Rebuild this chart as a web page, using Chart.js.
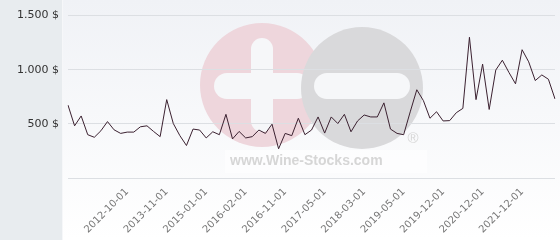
<!DOCTYPE html>
<html>
<head>
<meta charset="utf-8">
<script src="https://cdn.jsdelivr.net/npm/chart.js@4/dist/chart.umd.min.js"></script>
<style>
  html, body { margin: 0; padding: 0; background: #ffffff; }
  #wrap { width: 560px; height: 240px; position: relative; }
</style>
</head>
<body>
<div id="wrap"><canvas id="c" width="560" height="240"></canvas></div>
<script>
// Category labels (only the visible tick dates are known; others left blank)
const categories = [
  '', '', '', '', '', '', '', '', '', '2012-10-01',
  '', '', '', '', '', '2013-11-01', '', '', '', '',
  '', '2015-01-01', '', '', '', '', '', '2016-02-01', '', '',
  '', '', '', '2016-11-01', '', '', '', '', '', '2017-05-01',
  '', '', '', '', '', '2018-03-01', '', '', '', '',
  '', '2019-05-01', '', '', '', '', '', '2019-12-01', '', '',
  '', '', '', '2020-12-01', '', '', '', '', '', '2021-12-01',
  '', '', '', '', ''
];

// Price series ($)
const prices = [
  673, 482, 573, 400, 376, 436, 521, 445, 412, 424,
  424, 473, 482, 430, 382, 724, 503, 391, 300, 452,
  443, 370, 427, 400, 588, 361, 430, 370, 382, 443,
  412, 497, 270, 412, 391, 552, 400, 443, 564, 415,
  564, 503, 588, 427, 527, 582, 564, 564, 694, 452,
  412, 400, 611, 815, 715, 552, 612, 527, 530, 603,
  643, 1300, 724, 1052, 633, 997, 1088, 975, 870, 1185,
  1073, 900, 952, 912, 730
];

// Y tick values
const yTicks = [0, 500, 1000, 1500];

function fmt(v) {
  const s = String(Math.round(v));
  return s.replace(/\B(?=(\d{3})+(?!\d))/g, '.') + ' $';
}

const background = {
  id: 'background',
  beforeDraw(chart) {
    const ctx = chart.ctx;
    const W = chart.width, H = chart.height;
    ctx.save();
    const g = ctx.createLinearGradient(0, 0, 0, H);
    g.addColorStop(0, '#f0f2f6');
    g.addColorStop(1, '#ffffff');
    ctx.fillStyle = g;
    ctx.fillRect(0, 0, W, H);
    ctx.fillStyle = '#e8ecef';
    ctx.fillRect(0, 0, 62, H);
    ctx.fillStyle = '#f6f7f9';
    ctx.fillRect(62, 0, 1, H);

    function pill(x, y, w, h) {
      const r = h / 2;
      ctx.beginPath();
      ctx.moveTo(x + r, y);
      ctx.lineTo(x + w - r, y);
      ctx.arc(x + w - r, y + r, r, -Math.PI / 2, Math.PI / 2);
      ctx.lineTo(x + r, y + h);
      ctx.arc(x + r, y + r, r, Math.PI / 2, Math.PI * 1.5);
      ctx.closePath();
      ctx.fill();
    }
    ctx.fillStyle = '#eed6dc';
    ctx.beginPath(); ctx.arc(262, 85, 62, 0, Math.PI * 2); ctx.fill();
    ctx.fillStyle = '#f6f7f9';
    pill(214, 73, 96, 26);
    ctx.beginPath();
    ctx.moveTo(251, 49);
    ctx.arc(262, 49, 11, Math.PI, 0);
    ctx.lineTo(273, 121);
    ctx.arc(262, 121, 11, 0, Math.PI);
    ctx.closePath();
    ctx.fill();

    ctx.fillStyle = '#d9d9db';
    ctx.beginPath(); ctx.arc(362, 88, 61, 0, Math.PI * 2); ctx.fill();
    ctx.fillStyle = '#f6f7f9';
    pill(314, 73, 96, 26);

    ctx.fillStyle = 'rgba(255,255,255,0.5)';
    ctx.fillRect(225, 150, 202, 23);

    ctx.fillStyle = '#d6d6d6';
    ctx.font = 'bold 14px "Liberation Sans", Arial, sans-serif';
    ctx.textAlign = 'left';
    ctx.textBaseline = 'middle';
    ctx.fillText('www.Wine-Stocks.com', 230, 161);
    ctx.font = '15px "Liberation Sans", Arial, sans-serif';
    ctx.textAlign = 'center';
    ctx.fillText('\u00AE', 413, 139);
    ctx.restore();
  }
};

new Chart(document.getElementById('c'), {
  type: 'line',
  data: {
    labels: categories,
    datasets: [{
      data: prices,
      borderColor: '#3b2130',
      borderWidth: 1,
      pointRadius: 0,
      pointHoverRadius: 0,
      tension: 0,
      fill: false
    }]
  },
  options: {
    responsive: false,
    animation: false,
    events: [],
    layout: { padding: { top: 14, right: 5, left: 0, bottom: 0 } },
    plugins: { legend: { display: false }, tooltip: { enabled: false } },
    scales: {
      x: {
        offset: false,
        grid: { display: false, drawTicks: false },
        border: { display: false },
        ticks: {
          autoSkip: false,
          minRotation: 45,
          maxRotation: 45,
          padding: 8,
          color: '#777777',
          font: { family: '"DejaVu Sans", sans-serif', size: 10 }
        },
        afterFit(scale) { scale.height = 62; scale.paddingLeft = 0; scale.paddingRight = 0; }
      },
      y: {
        min: 0,
        max: 1500,
        afterBuildTicks(scale) { scale.ticks = yTicks.map(v => ({ value: v })); },
        grid: { color: '#dcdfe3', drawTicks: false, lineWidth: 1 },
        border: { display: false },
        ticks: {
          padding: 9,
          color: '#333333',
          font: { family: '"DejaVu Sans", sans-serif', size: 11 },
          callback: v => (v === 0 ? '' : fmt(v))
        },
        afterFit(scale) { scale.width = 68; }
      }
    }
  },
  plugins: [background]
});
</script>
</body>
</html>
